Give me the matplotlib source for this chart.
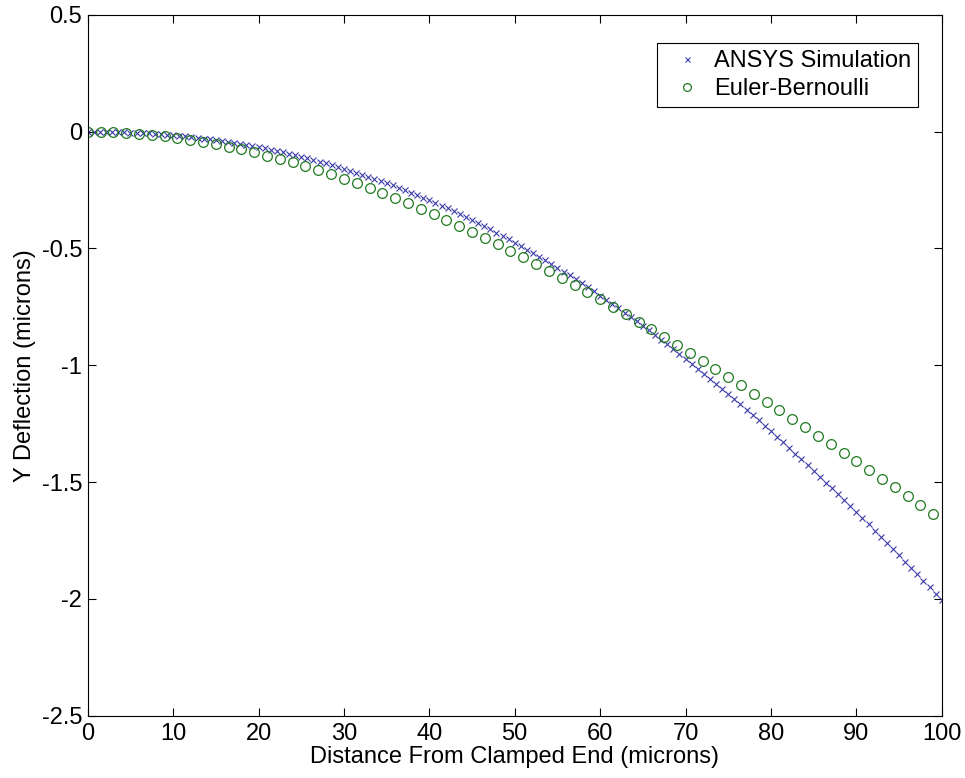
import matplotlib
matplotlib.use('Agg')
import matplotlib.pyplot as plt
import numpy as np

plt.rcParams['font.family'] = ['Liberation Sans', 'DejaVu Sans']
plt.rcParams['axes.unicode_minus'] = False

# ANSYS nodes: 141 points evenly spaced 0..100 microns
ansys_x = np.linspace(0, 100, 141)
ansys_y = [
    0.0000, -0.0001, -0.0003, -0.0007, -0.0012, -0.0019, -0.0028, -0.0038, -0.0050, -0.0063,
    -0.0078, -0.0095, -0.0114, -0.0134, -0.0157, -0.0181, -0.0207, -0.0234, -0.0264, -0.0295,
    -0.0329, -0.0364, -0.0402, -0.0441, -0.0482, -0.0526, -0.0571, -0.0618, -0.0668, -0.0719,
    -0.0773, -0.0829, -0.0887, -0.0947, -0.1009, -0.1073, -0.1139, -0.1208, -0.1279, -0.1352,
    -0.1427, -0.1505, -0.1584, -0.1666, -0.1750, -0.1837, -0.1926, -0.2017, -0.2110, -0.2205,
    -0.2303, -0.2404, -0.2506, -0.2611, -0.2718, -0.2827, -0.2939, -0.3053, -0.3170, -0.3289,
    -0.3410, -0.3533, -0.3659, -0.3787, -0.3918, -0.4050, -0.4185, -0.4323, -0.4463, -0.4605,
    -0.4749, -0.4896, -0.5045, -0.5197, -0.5350, -0.5507, -0.5665, -0.5826, -0.5989, -0.6154,
    -0.6322, -0.6492, -0.6664, -0.6838, -0.7015, -0.7194, -0.7375, -0.7558, -0.7744, -0.7932,
    -0.8122, -0.8314, -0.8508, -0.8705, -0.8904, -0.9105, -0.9307, -0.9513, -0.9719, -0.9929,
    -1.0140, -1.0353, -1.0569, -1.0786, -1.1005, -1.1226, -1.1450, -1.1675, -1.1902, -1.2131,
    -1.2362, -1.2595, -1.2829, -1.3065, -1.3304, -1.3545, -1.3786, -1.4030, -1.4275, -1.4521,
    -1.4770, -1.5021, -1.5272, -1.5526, -1.5781, -1.6038, -1.6295, -1.6555, -1.6815, -1.7078,
    -1.7341, -1.7607, -1.7874, -1.8141, -1.8410, -1.8682, -1.8953, -1.9225, -1.9499, -1.9774,
    -2.0050,
]

# Euler-Bernoulli: every 1.5 microns, 0..99
euler_x = np.arange(0, 99.1, 1.5)
euler_y = [
    0.0000, -0.0006, -0.0022, -0.0050, -0.0088, -0.0137, -0.0196, -0.0265, -0.0344, -0.0433,
    -0.0532, -0.0641, -0.0758, -0.0885, -0.1021, -0.1166, -0.1320, -0.1482, -0.1652, -0.1830,
    -0.2017, -0.2211, -0.2413, -0.2623, -0.2840, -0.3064, -0.3295, -0.3533, -0.3777, -0.4029,
    -0.4286, -0.4550, -0.4819, -0.5094, -0.5376, -0.5662, -0.5954, -0.6251, -0.6553, -0.6860,
    -0.7171, -0.7487, -0.7807, -0.8132, -0.8460, -0.8792, -0.9128, -0.9468, -0.9810, -1.0156,
    -1.0505, -1.0856, -1.1210, -1.1567, -1.1926, -1.2287, -1.2650, -1.3015, -1.3381, -1.3749,
    -1.4118, -1.4489, -1.4860, -1.5232, -1.5605, -1.5978, -1.6351,
]

fig = plt.figure(figsize=(9.65, 7.78), dpi=100)
ax = fig.add_axes([0.0909, 0.0801, 0.8850, 0.9008])

ax.plot(ansys_x, ansys_y, 'x', color='#3a3aa8', markersize=4.5, markeredgewidth=0.8,
        label='ANSYS Simulation')
ax.plot(euler_x, euler_y, 'o', color='#1f7a1f', markerfacecolor='none', markersize=7,
        markeredgewidth=0.9, label='Euler-Bernoulli')

ax.set_xlim(0, 100)
ax.set_ylim(-2.5, 0.5)
ax.set_xticks(np.arange(0, 101, 10))
ax.set_yticks([-2.5, -2, -1.5, -1, -0.5, 0, 0.5])
ax.set_yticklabels(['-2.5', '-2', '-1.5', '-1', '-0.5', '0', '0.5'])
ax.tick_params(direction='in', length=6, width=0.8, top=True, right=True,
               labelsize=17)
ax.tick_params(axis='x', pad=5)
ax.tick_params(axis='y', pad=4)
for s in ax.spines.values():
    s.set_linewidth(0.8)

ax.set_xlabel('Distance From Clamped End (microns)', fontsize=17, labelpad=1)
ax.set_ylabel('Y Deflection (microns)', fontsize=17, labelpad=4)

leg = ax.legend(loc='upper right', bbox_to_anchor=(0.9726, 0.9595), borderaxespad=0,
                fontsize=17, fancybox=False, edgecolor='black', framealpha=1,
                handletextpad=0.2, borderpad=0.3, labelspacing=0.25, handlelength=1.9,
                markerscale=0.8)
leg.get_frame().set_linewidth(0.8)

plt.savefig('out.png', dpi=100)
